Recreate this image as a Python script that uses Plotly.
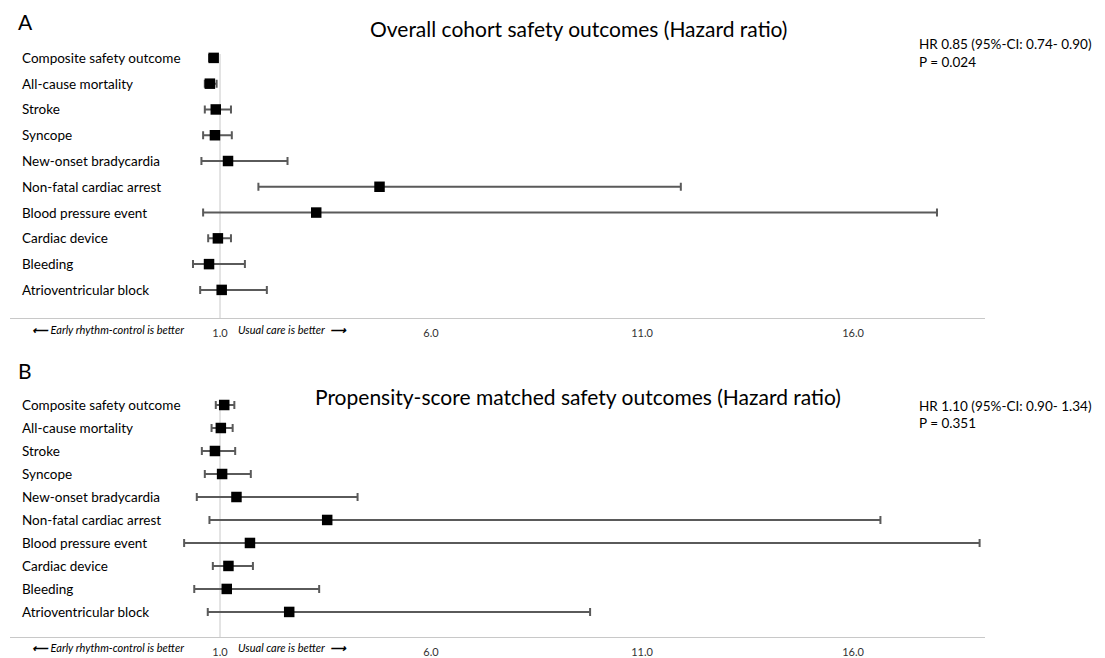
import plotly.graph_objects as go

categories = ["Composite safety outcome", "All-cause mortality", "Stroke", "Syncope",
              "New-onset bradycardia", "Non-fatal cardiac arrest", "Blood pressure event",
              "Cardiac device", "Bleeding", "Atrioventricular block"]

# Panel A: overall cohort
hr_a = [0.85, 0.76, 0.90, 0.88, 1.19, 4.78, 3.28, 0.95, 0.74, 1.04]
lo_a = [0.74, 0.64, 0.64, 0.60, 0.56, 1.91, 0.60, 0.72, 0.36, 0.53]
hi_a = [0.90, 0.92, 1.26, 1.28, 2.60, 11.92, 17.99, 1.26, 1.59, 2.11]

# Panel B: propensity-score matched
hr_b = [1.10, 1.02, 0.88, 1.05, 1.39, 3.54, 1.71, 1.20, 1.16, 2.64]
lo_b = [0.90, 0.80, 0.57, 0.64, 0.45, 0.75, 0.15, 0.83, 0.39, 0.71]
hi_b = [1.34, 1.30, 1.36, 1.73, 4.26, 16.65, 19.00, 1.78, 3.35, 9.77]

tick_vals = [1, 6, 11, 16]
tick_text = ["1.0", "6.0", "11.0", "16.0"]

OFF = 8  # page body margin
W, H = 1105 - 2 * OFF, 658 - OFF
FONT = "Lato, 'Open Sans', sans-serif"
NARROW = "'Liberation Sans Narrow', " + FONT

def px(x):
    return (x - OFF) / W

def py(y):
    return 1 - (y - OFF) / H

fig = go.Figure()

def add_panel(hr, lo, hi, xa, ya):
    ys = list(range(len(categories)))
    fig.add_trace(go.Scatter(
        x=hr, y=ys, mode="markers", xaxis=xa, yaxis=ya,
        marker=dict(symbol="square", size=10.5, color="black"),
        error_x=dict(type="data", symmetric=False,
                     array=[h - m for h, m in zip(hi, hr)],
                     arrayminus=[m - l for m, l in zip(hr, lo)],
                     color="#5a5a5a", thickness=2, width=4),
        showlegend=False, hoverinfo="skip"))

add_panel(hr_a, lo_a, hi_a, "x", "y")
add_panel(hr_b, lo_b, hi_b, "x2", "y2")

x_dom = [px(10), px(985)]
xrange = [1 - 210 / 42.2, 1 + 765 / 42.2]

def pdom(top, bottom):
    return [py(bottom), py(top)]

axis_x = dict(range=xrange, domain=x_dom, showgrid=False, zeroline=False,
              showline=True, linecolor="#c8c8c8", linewidth=1,
              tickmode="array", tickvals=tick_vals, ticktext=tick_text,
              ticks="", ticklen=0, ticklabelstandoff=5, automargin=False,
              tickfont=dict(family=NARROW, size=11, color="#333"))
fig.update_layout(
    xaxis=dict(axis_x, anchor="y"),
    xaxis2=dict(axis_x, anchor="y2"),
    yaxis=dict(range=[9 + 1.09, -0.5], domain=pdom(45, 318), visible=False,
               anchor="x", automargin=False),
    yaxis2=dict(range=[9 + 1.09, -0.5], domain=pdom(393.5, 637), visible=False,
                anchor="x2", automargin=False),
)

# vertical reference lines at HR = 1
for xr, yr in [("x", "y"), ("x2", "y2")]:
    fig.add_shape(type="line", xref=xr, yref=yr, x0=1, x1=1, y0=-0.15, y1=10.09,
                  line=dict(color="#c8c8c8", width=1), layer="below")

ann = []
for yr in ["y", "y2"]:
    for i, c in enumerate(categories):
        ann.append(dict(text=c, xref="paper", yref=yr, x=px(20), y=i, xanchor="left",
                        yanchor="middle", showarrow=False,
                        font=dict(family=FONT, size=13.5, color="black")))

def ptxt(text, x, y, size, xanchor="left", italic=False, color="black", fam=FONT):
    t = f"<i>{text}</i>" if italic else text
    return dict(text=t, xref="paper", yref="paper", x=px(x), y=py(y),
                xanchor=xanchor, yanchor="middle", showarrow=False,
                font=dict(family=fam, size=size, color=color))

ann += [
    ptxt("A", 16, 21, 21),
    ptxt("Overall cohort safety outcomes (Hazard ratio)", 578, 29, 21, "center"),
    ptxt("HR 0.85 (95%-CI: 0.74- 0.90)", 917, 44, 13.5),
    ptxt("P = 0.024", 917, 62, 13.5),
    ptxt("B", 16, 370, 21),
    ptxt("Propensity-score matched safety outcomes (Hazard ratio)", 578, 396, 21, "center"),
    ptxt("HR 1.10 (95%-CI: 0.90- 1.34)", 917, 406, 13.5),
    ptxt("P = 0.351", 917, 423, 13.5),
]
for y in [329, 647]:
    ann.append(ptxt("<b>⟵</b> Early rhythm-control is better", 30, y, 11, italic=True, fam=NARROW))
    ann.append(ptxt("Usual care is better  <b>⟶</b>", 236, y, 11, italic=True, fam=NARROW))

fig.update_layout(annotations=ann, width=W, height=H,
                  margin=dict(l=0, r=0, t=0, b=0, autoexpand=False),
                  paper_bgcolor="white", plot_bgcolor="white")

fig.write_html("out.html")
